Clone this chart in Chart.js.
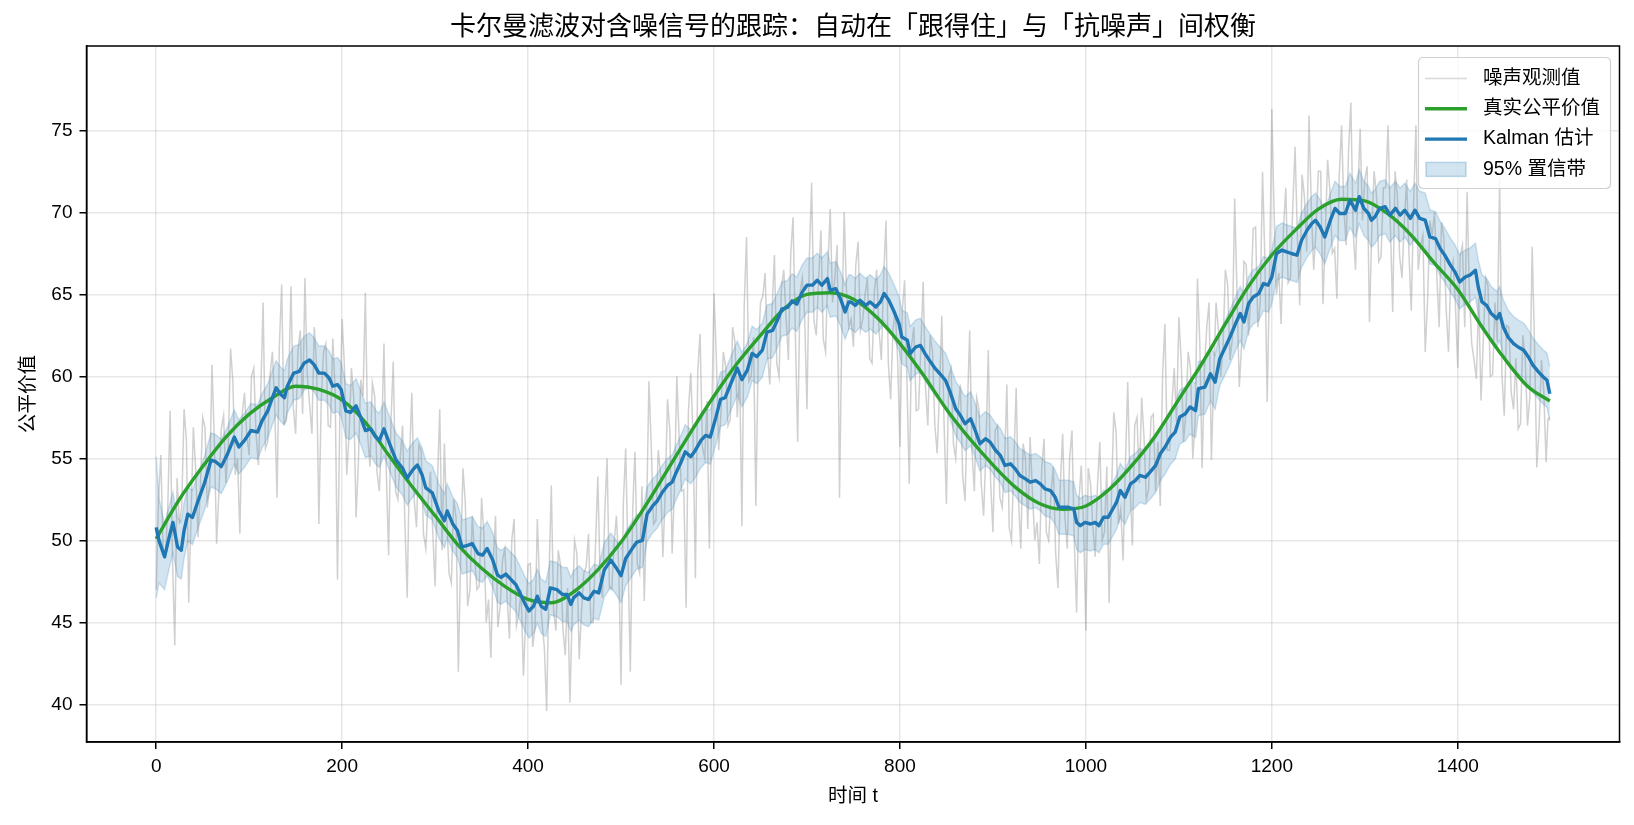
<!DOCTYPE html>
<html>
<head>
<meta charset="utf-8">
<script src="https://cdn.jsdelivr.net/npm/chart.js@4.4.1/dist/chart.umd.min.js"></script>
<style>
  html, body { margin: 0; padding: 0; background: #ffffff; }
  canvas { display: block; }
</style>
</head>
<body>
<canvas id="c" width="1634" height="825"></canvas>
<script>
// ---------------- DATA ----------------
const titleText = '卡尔曼滤波对含噪信号的跟踪：自动在「跟得住」与「抗噪声」间权衡';
const xLabelText = '时间 t';
const yLabelText = '公平价值';
const seriesNames = ['噪声观测值', '真实公平价值', 'Kalman 估计', '95% 置信带'];

const xTicks = [0, 200, 400, 600, 800, 1000, 1200, 1400];
const yTicks = [40, 45, 50, 55, 60, 65, 70, 75];

// true fair value, sampled every 25 steps (last point t = 1499)
const truthStep = 25;
const truthLastT = 1499;
const truthV = [
  50.1, 52.5, 54.5, 56.3, 57.7, 58.7, 59.4, 59.2, 58.55, 57.2,
  55.2, 53.3, 51.5, 49.7, 48.3, 47.2, 46.4, 46.2, 46.9, 48.2,
  49.9, 52.0, 54.3, 56.6, 58.8, 60.8, 62.5, 64.1, 65.0, 65.1,
  64.7, 63.6, 62.0, 60.1, 58.0, 56.2, 54.6, 53.2, 52.25, 51.9,
  52.1, 53.1, 54.6, 56.4, 58.6, 60.8, 63.2, 65.5, 67.4, 68.9,
  70.2, 70.8, 70.7, 69.9, 68.6, 66.9, 65.3, 63.1, 61.1, 59.4,
  58.5
];

// noisy observations at t = 0, 5, 10, ... (last point t = 1499)
const noiseStep = 5;
const noiseLastT = 1499;
const noiseV = [
  47.0, 55.2, 49.0, 57.9, 43.6,   51.0, 58.0, 46.2, 56.9, 50.2,
  57.5, 52.0, 60.7, 49.8, 56.8,   53.5, 61.7, 54.0, 50.4, 59.0,
  55.2, 60.5, 54.6, 64.5, 56.0,   61.5, 52.6, 65.6, 57.3, 65.5,
  56.5, 62.8, 66.0, 58.3, 63.0,   51.0, 61.5, 57.0, 62.3, 47.6,
  63.5, 54.0, 60.5, 51.4, 59.8,   65.1, 54.5, 58.8, 53.0, 62.0,
  49.1, 60.9, 52.5, 57.0, 46.5,   59.0, 50.8, 55.5, 49.5, 54.2,
  47.2, 58.0, 55.9, 48.0, 52.5,   42.0, 54.4, 46.0, 51.5, 47.0,
  52.6, 45.0, 42.85, 51.5, 46.0,  49.5, 44.0, 51.3, 45.5, 41.75,
  48.5, 43.5, 51.3, 45.0, 39.6,   53.35, 44.5, 48.5, 43.0, 40.1,
  50.0, 42.76, 48.0, 50.4, 45.0,  53.9, 46.5, 55.0, 47.0, 51.5,
  41.2, 55.6, 42.0, 55.4, 48.0,   46.3, 59.7, 51.0, 55.5, 48.97,
  58.6, 49.2, 60.0, 53.0, 45.9,   60.2, 47.7, 62.6, 55.0, 49.5,
  65.05, 55.5, 61.5, 57.0, 63.0,  57.5, 50.87, 68.5, 60.0, 52.1,
  64.5, 66.3, 59.5, 67.4, 60.0,   66.5, 61.0, 69.7, 56.0, 66.0,
  58.0, 71.8, 62.5, 68.9, 61.5,   70.2, 66.0, 52.6, 70.0, 63.0,
  61.8, 68.2, 63.5, 66.0, 60.8,   66.5, 61.0, 69.5, 58.6, 64.0,
  55.7, 65.86, 53.45, 63.0, 58.0, 65.76, 57.0, 61.5, 55.3, 63.7,
  52.24, 60.5, 55.0, 59.5, 52.4,  62.8, 53.0, 58.0, 51.5, 61.6,
  50.5, 57.0, 52.0, 59.5, 50.0,   59.3, 49.5, 55.0, 56.3, 50.0,
  48.56, 56.2, 50.0, 54.5, 47.1,  56.5, 49.5, 56.7, 45.6, 54.56,
  44.5, 53.5, 49.0, 56.0, 50.5,   46.2, 57.8, 51.0, 48.77, 59.65,
  49.7, 57.5, 58.7, 52.5, 57.5,   53.0, 52.1, 63.2, 55.5, 60.5,
  63.6, 56.0, 61.5, 55.0, 65.96,  54.4, 63.0, 54.9, 64.5, 60.0,
  66.5, 61.0, 70.84, 59.35, 67.0, 62.5, 69.0, 63.0, 72.47, 58.44,
  76.3, 65.0, 63.2, 71.5, 66.0,   74.0, 64.33, 71.0, 75.9, 66.5,
  72.5, 64.4, 73.2, 67.5, 64.74,  75.3, 68.0, 76.7, 66.5, 75.1,
  72.0, 63.32, 72.5, 67.0, 71.5,  75.3, 63.92, 71.0, 66.0, 72.0,
  64.0, 75.3, 68.0, 61.48, 69.5,  70.0, 63.0, 68.5, 61.5, 67.0,
  60.5, 68.0, 71.25, 62.0, 59.85, 58.53, 66.0, 60.0, 64.5, 72.06,
  57.6, 63.0, 58.0, 56.8, 62.5,   57.0, 67.9, 54.45, 61.0, 54.76,
  57.5
];
// noisy observations in between, at t = 2.5, 7.5, ... (last one at t = 1497)
const noiseMidOffset = 2.5;
const noiseMidLastT = 1497;
const noiseMidV = [
  52.5, 49.2, 52.1, 49.0, 53.8,   52.1, 56.1, 51.5, 54.3, 53.1,
  56.9, 53.4, 56.2, 53.0, 57.6,   55.8, 59.7, 55.0, 57.7, 56.4,
  60.0, 56.4, 59.0, 55.6, 60.1,   58.2, 61.9, 57.1, 59.6, 58.1,
  61.6, 57.7, 60.1, 56.5, 60.7,   58.5, 62.0, 56.9, 59.1, 57.4,
  60.6, 56.5, 58.7, 54.8, 58.8,   56.4, 59.6, 54.2, 56.2, 54.2,
  57.2, 53.0, 55.1, 51.1, 55.0,   52.5, 55.8, 50.4, 52.4, 50.5,
  53.5, 49.4, 51.4, 47.4, 51.4,   49.0, 52.3, 47.0, 49.1, 47.2,
  50.4, 46.4, 48.6, 44.7, 48.8,   46.5, 50.0, 44.8, 47.0, 45.3,
  48.6, 44.7, 47.1, 43.5, 47.7,   45.7, 49.4, 44.6, 47.1, 45.6,
  49.2, 45.7, 48.4, 45.0, 49.6,   47.8, 51.7, 47.1, 49.8, 48.5,
  52.3, 48.9, 51.8, 48.6, 53.3,   51.6, 55.7, 51.2, 54.0, 52.9,
  56.7, 53.4, 56.3, 53.1, 57.9,   56.2, 60.3, 55.7, 58.5, 57.4,
  61.2, 57.8, 60.6, 57.4, 62.1,   60.4, 64.3, 59.7, 62.4, 61.1,
  64.9, 61.4, 64.1, 60.8, 65.4,   63.6, 67.4, 62.6, 65.1, 63.7,
  67.2, 63.4, 65.9, 62.3, 66.6,   64.5, 68.0, 62.9, 65.2, 63.5,
  66.8, 62.8, 65.0, 61.1, 65.2,   62.8, 66.1, 60.8, 62.9, 61.0,
  64.0, 59.8, 61.9, 57.9, 61.8,   59.3, 62.5, 57.1, 59.0, 57.0,
  60.0, 55.9, 57.9, 53.9, 57.9,   55.4, 58.7, 53.4, 55.5, 53.6,
  56.7, 52.6, 54.7, 50.8, 54.8,   52.5, 55.9, 50.7, 52.9, 51.1,
  54.4, 50.5, 52.9, 49.2, 53.4,   51.3, 55.0, 50.0, 52.4, 50.9,
  54.4, 50.8, 53.4, 50.0, 54.5,   52.7, 56.6, 51.9, 54.6, 53.3,
  57.0, 53.5, 56.3, 53.1, 57.7,   56.0, 60.1, 55.5, 58.3, 57.2,
  61.0, 57.7, 60.5, 57.3, 62.1,   60.4, 64.5, 60.0, 62.9, 61.8,
  65.6, 62.3, 65.2, 62.0, 66.8,   65.1, 69.1, 64.5, 67.2, 66.0,
  69.8, 66.3, 69.0, 65.7, 70.3,   68.4, 72.3, 67.6, 70.2, 68.9,
  72.5, 68.8, 71.3, 67.8, 72.2,   70.2, 73.8, 68.8, 71.1, 69.5,
  72.8, 68.9, 71.1, 67.3, 71.5,   69.2, 72.5, 67.3, 69.4, 67.5,
  70.6, 66.5, 68.6, 64.6, 68.6,   66.1, 69.4, 64.1, 66.2, 64.3,
  67.3, 63.0, 65.0, 61.0, 64.8,   62.3, 65.5, 60.1, 62.1, 60.1,
  63.1, 59.0, 61.1, 57.1, 61.1,   58.7, 62.1, 56.9, 59.1, 57.4
];

// Kalman estimate
const kalmanT = [
  0,3,9,14,18,23,27,30,34,39,45,52,59,64,70,77,84,89,95,102,109,114,120,125,129,134,138,141,148,154,159,165,170,175,181,
  186,190,195,199,204,209,215,220,225,231,236,240,245,251,258,265,270,276,281,286,290,297,304,310,313,319,324,329,335,340,346,351,356,362,367,
  371,376,381,387,392,397,401,406,410,414,419,424,431,437,442,446,449,455,460,465,471,476,482,489,494,500,505,512,517,523,528,534,539,544,550,555,
  559,564,569,575,580,586,591,596,602,607,612,618,625,630,636,641,646,652,657,663,668,673,679,684,689,695,700,706,711,716,722,725,731,736,741,745,
  747,752,757,763,768,774,779,783,788,793,799,802,808,811,817,822,827,833,838,843,849,854,860,865,870,876,881,886,892,897,903,908,913,919,924,929,
  935,940,946,951,956,962,967,971,976,981,987,990,994,999,1005,1010,1014,1019,1024,1028,1033,1037,1042,1048,1053,1058,1064,1069,1075,1080,1085,1091,1096,1101,1107,1112,1118,1121,
  1128,1134,1139,1144,1150,1155,1161,1166,1170,1175,1180,1186,1191,1196,1200,1205,1211,1216,1221,1227,1232,1238,1243,1247,1252,1257,1263,1268,1273,1279,1284,1290,1294,1299,1304,1307,
  1311,1316,1322,1327,1333,1338,1343,1349,1354,1359,1365,1370,1376,1381,1386,1392,1397,1402,1408,1413,1419,1422,1426,1431,1436,1442,1445,1449,1454,1460,1465,1471,1476,1481,1487,1492,1496,1499
];
const kalmanV = [
  50.8,50.0,49.0,50.2,51.1,49.6,49.4,50.6,51.6,51.4,52.4,53.5,54.9,54.8,54.5,55.3,56.3,55.7,56.1,56.7,56.6,57.3,57.9,58.7,59.3,58.9,58.7,59.4,60.2,60.3,60.8,61.0,60.7,60.2,60.2,
  59.9,59.4,59.5,59.2,57.9,57.8,58.2,57.5,56.7,56.8,56.3,56.1,56.8,55.9,54.9,54.4,53.8,54.3,54.6,54.0,53.2,52.9,51.8,51.2,51.8,51.0,50.6,49.6,49.7,49.8,49.2,49.1,49.5,48.8,47.9,
  47.75,47.95,47.65,47.3,46.7,46.1,45.7,46.0,46.6,46.0,45.8,47.1,47.0,46.7,46.7,46.1,46.5,46.8,46.5,46.4,46.9,46.8,48.2,48.8,48.4,47.85,48.9,49.5,49.9,50.0,51.6,52.1,52.4,52.9,53.35,53.55,
  54.1,54.7,55.4,55.1,55.5,56.1,56.4,56.3,57.5,58.6,58.7,59.55,60.5,59.8,60.4,61.4,61.2,61.6,62.7,62.8,63.4,64.1,64.2,64.6,64.4,65.15,65.56,65.56,65.86,65.56,65.96,65.25,65.35,64.74,63.93,64.54,
  64.54,64.33,64.64,64.33,64.54,64.23,64.54,65.05,64.64,64.03,63.22,62.4,62.2,61.39,61.79,61.89,61.39,60.87,60.47,60.16,59.76,59.04,58.03,57.62,57.11,57.42,56.7,55.89,56.2,55.99,55.48,55.18,54.57,54.67,54.36,53.96,
  53.75,53.55,53.65,53.45,53.14,53.04,52.63,52.02,52.02,52.02,51.92,51.1,50.9,51.1,51.0,51.1,50.9,51.41,51.41,51.82,52.33,53.04,52.63,53.45,53.65,53.96,53.85,54.16,54.57,55.28,55.68,56.29,56.6,57.52,57.72,58.13,57.92,59.25,
  59.35,60.16,59.65,61.08,61.79,62.4,63.22,63.83,63.32,64.44,64.84,65.05,65.66,65.56,66.06,67.49,67.7,67.59,67.49,67.39,68.3,68.92,69.32,69.52,69.11,68.5,69.52,70.24,69.93,69.93,70.74,70.13,70.95,70.24,69.93,69.52,
  69.73,70.24,70.34,69.83,70.24,69.83,70.13,69.63,70.13,69.63,69.52,68.5,68.4,67.8,67.39,66.78,66.37,65.76,66.06,66.17,66.47,65.45,64.54,64.33,63.83,63.52,63.83,63.01,62.4,62.0,61.79,61.59,61.18,60.67,60.26,59.96,59.76,58.94
];

// half width of the 95% band: wider for the first few estimates, then steady
const bandHalfStart = [4.3, 2.6, 2.0, 1.9, 1.85, 1.8, 1.75, 1.7];
const bandHalfSteady = 1.65;

// ---------------- build library data ----------------
const truthData = truthV.map((v, i) => ({ x: i < truthV.length - 1 ? i * truthStep : truthLastT, y: v }));
const noiseData = [];
noiseV.forEach((v, i) => {
  noiseData.push({ x: i < noiseV.length - 1 ? i * noiseStep : noiseLastT, y: v });
  if (i < noiseMidV.length) {
    noiseData.push({ x: i < noiseMidV.length - 1 ? i * noiseStep + noiseMidOffset : noiseMidLastT, y: noiseMidV[i] });
  }
});
const kalmanData = kalmanV.map((v, i) => ({ x: kalmanT[i], y: v }));
const halfAt = i => (i < bandHalfStart.length ? bandHalfStart[i] : bandHalfSteady);
const bandUpper = kalmanV.map((v, i) => ({ x: kalmanT[i], y: v + halfAt(i) }));
const bandLower = kalmanV.map((v, i) => ({ x: kalmanT[i], y: v - halfAt(i) }));

const FONT = '"Liberation Sans", "Noto Sans CJK SC", sans-serif';
const COLORS = {
  noise: 'rgba(128,128,128,0.37)',
  noiseLegend: 'rgba(128,128,128,0.3)',
  truth: '#2ca02c',
  kalman: '#1f77b4',
  bandFill: 'rgba(31,119,180,0.2)',
  bandEdge: 'rgba(31,119,180,0.2)'
};

const AREA = { left: 86.5, right: 1619.5, top: 46, bottom: 742 };

const decor = {
  id: 'decor',
  afterDatasetsDraw(chart) {
    const ctx = chart.ctx, a = chart.chartArea;
    ctx.save();
    ctx.strokeStyle = '#000';
    ctx.lineWidth = 1.5;
    ctx.strokeRect(a.left, a.top, a.right - a.left, a.bottom - a.top);
    ctx.restore();
  },
  afterDraw(chart) {
    const ctx = chart.ctx, a = chart.chartArea;
    ctx.save();
    ctx.fillStyle = '#000';
    // title
    ctx.font = '26px ' + FONT;
    ctx.textAlign = 'center';
    ctx.textBaseline = 'middle';
    ctx.fillText(titleText, (a.left + a.right) / 2, 28);
    // x label
    ctx.font = '19.5px ' + FONT;
    ctx.fillText(xLabelText, (a.left + a.right) / 2, 797);
    // y label
    ctx.save();
    ctx.translate(29, (a.top + a.bottom) / 2);
    ctx.rotate(-Math.PI / 2);
    ctx.fillText(yLabelText, 0, 0);
    ctx.restore();

    // legend
    const bx = 1418.5, by = 57.5, bw = 192, bh = 131, r = 5;
    ctx.beginPath();
    ctx.moveTo(bx + r, by);
    ctx.lineTo(bx + bw - r, by);
    ctx.quadraticCurveTo(bx + bw, by, bx + bw, by + r);
    ctx.lineTo(bx + bw, by + bh - r);
    ctx.quadraticCurveTo(bx + bw, by + bh, bx + bw - r, by + bh);
    ctx.lineTo(bx + r, by + bh);
    ctx.quadraticCurveTo(bx, by + bh, bx, by + bh - r);
    ctx.lineTo(bx, by + r);
    ctx.quadraticCurveTo(bx, by, bx + r, by);
    ctx.closePath();
    ctx.fillStyle = 'rgba(255,255,255,0.8)';
    ctx.fill();
    ctx.strokeStyle = '#d0d0d0';
    ctx.lineWidth = 1.2;
    ctx.stroke();

    const rows = [78.5, 108.8, 139.1, 169.4];
    const x1 = 1425, x2 = 1467, tx = 1483;
    const lineStyles = [
      { c: COLORS.noiseLegend, w: 1.5 },
      { c: COLORS.truth, w: 3.4 },
      { c: COLORS.kalman, w: 3.4 }
    ];
    lineStyles.forEach((s, i) => {
      ctx.beginPath();
      ctx.moveTo(x1, rows[i]);
      ctx.lineTo(x2, rows[i]);
      ctx.strokeStyle = s.c;
      ctx.lineWidth = s.w;
      ctx.stroke();
    });
    ctx.fillStyle = COLORS.bandFill;
    ctx.fillRect(x1 + 1, rows[3] - 7, x2 - x1 - 2, 14);
    ctx.strokeStyle = 'rgba(31,119,180,0.25)';
    ctx.lineWidth = 1.5;
    ctx.strokeRect(x1 + 1, rows[3] - 7, x2 - x1 - 2, 14);

    ctx.fillStyle = '#000';
    ctx.font = '19.5px ' + FONT;
    ctx.textAlign = 'left';
    ctx.textBaseline = 'middle';
    seriesNames.forEach((n, i) => ctx.fillText(n, tx, rows[i]));
    ctx.restore();
  }
};

const lineBase = { pointRadius: 0, pointHoverRadius: 0, tension: 0, fill: false };

new Chart(document.getElementById('c'), {
  type: 'line',
  data: {
    datasets: [
      Object.assign({}, lineBase, { label: 'band-upper', data: bandUpper, borderColor: COLORS.bandEdge, borderWidth: 1.5, order: 5 }),
      Object.assign({}, lineBase, { label: seriesNames[3], data: bandLower, borderColor: COLORS.bandEdge, borderWidth: 1.5, backgroundColor: COLORS.bandFill, fill: '-1', order: 4 }),
      Object.assign({}, lineBase, { label: seriesNames[0], data: noiseData, borderColor: COLORS.noise, borderWidth: 1.5, order: 3 }),
      Object.assign({}, lineBase, { label: seriesNames[1], data: truthData, borderColor: COLORS.truth, borderWidth: 3.4, cubicInterpolationMode: 'monotone', order: 2 }),
      Object.assign({}, lineBase, { label: seriesNames[2], data: kalmanData, borderColor: COLORS.kalman, borderWidth: 3.4, borderJoinStyle: 'round', order: 1 })
    ]
  },
  options: {
    responsive: false,
    animation: false,
    devicePixelRatio: 1,
    events: [],
    layout: { padding: { left: 0, top: AREA.top, right: 1634 - AREA.right, bottom: 0 } },
    plugins: { legend: { display: false }, tooltip: { enabled: false }, title: { display: false } },
    scales: {
      x: {
        type: 'linear',
        min: -74.95,
        max: 1573.95,
        afterFit(scale) { scale.height = 825 - AREA.bottom; },
        afterBuildTicks(scale) { scale.ticks = xTicks.map(v => ({ value: v })); },
        grid: { color: 'rgba(176,176,176,0.3)', lineWidth: 1.5, tickLength: 7, tickColor: '#000', tickWidth: 1.5, drawOnChartArea: true },
        border: { display: true, color: '#000', width: 1.5 },
        ticks: { autoSkip: false, maxRotation: 0, padding: 6, color: '#000', font: { family: FONT, size: 19 }, callback: v => String(v) }
      },
      y: {
        type: 'linear',
        min: 37.71,
        max: 80.14,
        afterFit(scale) { scale.width = AREA.left; },
        afterBuildTicks(scale) { scale.ticks = yTicks.map(v => ({ value: v })); },
        grid: { color: 'rgba(176,176,176,0.3)', lineWidth: 1.5, tickLength: 7, tickColor: '#000', tickWidth: 1.5 },
        border: { display: true, color: '#000', width: 1.5 },
        ticks: { autoSkip: false, padding: 7, color: '#000', font: { family: FONT, size: 19 }, callback: v => String(v) }
      }
    }
  },
  plugins: [decor]
});
</script>
</body>
</html>
